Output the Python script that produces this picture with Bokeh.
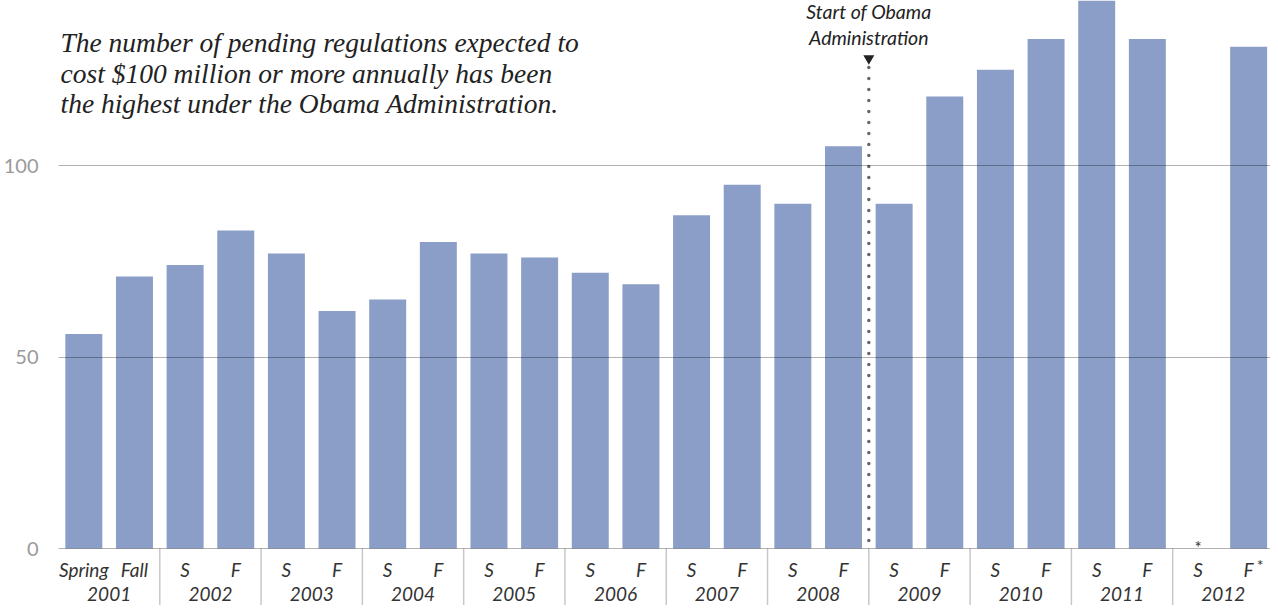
from bokeh.plotting import figure
from bokeh.models import Range1d, FixedTicker
from bokeh.core.properties import value
from bokeh.embed import file_html
from bokeh.resources import INLINE

# ---- data ----
years = ["2001", "2002", "2003", "2004", "2005", "2006",
         "2007", "2008", "2009", "2010", "2011", "2012"]
season_labels = ["Spring", "Fall"] + ["S", "F"] * 11
counts = [56, 71, 74, 83, 77, 62, 65, 80, 77, 76, 72, 69,
          87, 95, 90, 105, 90, 118, 125, 133, 144, 133, None, 131]
y_ticks = [0, 50, 100]
title_lines = ["The number of pending regulations expected to",
               "cost $100 million or more annually has been",
               "the highest under the Obama Administration."]
marker_lines = ["Start of Obama", "Administration"]
obama_start_index = 16   # first period of the Obama Administration (Spring 2009)

# ---- geometry helpers (page pixel coordinates; page margin is 8px) ----
MARGIN = 8
WIN_W, WIN_H = 1278, 613
W, H = WIN_W - MARGIN, WIN_H - MARGIN
FRAME_LEFT_PAGE = 63
Y0_PX = 556            # page pixel row of value 0
PX_PER_UNIT = 3.83
SLOT_PX = 50.77

def ydat(py):
    return (Y0_PX - py) / PX_PER_UNIT

def xdat(px):
    return (px - FRAME_LEFT_PAGE) / SLOT_PX

BAR_COLOR = "#8A9EC7"
SANS = value("Lato")
SERIF = value("Liberation Serif")

p = figure(width=W, height=H, output_backend="svg", toolbar_location=None,
           x_range=Range1d(0, xdat(WIN_W)), y_range=Range1d(ydat(WIN_H), ydat(MARGIN)),
           x_axis_location=None, min_border_left=FRAME_LEFT_PAGE - MARGIN,
           min_border_right=0, min_border_top=0, min_border_bottom=0)
p.outline_line_color = None
p.background_fill_color = "white"
p.border_fill_color = "white"

# bars
bx = [i + 0.5 for i, v in enumerate(counts) if v is not None]
bt = [v for v in counts if v is not None]
p.vbar(x=bx, top=bt, bottom=0, width=0.73, fill_color=BAR_COLOR, line_color=None)

# y axis
ax = p.yaxis[0]
ax.ticker = FixedTicker(ticks=y_ticks)
ax.axis_line_color = None
ax.major_tick_line_color = None
ax.minor_tick_line_color = None
ax.major_tick_in = 0
ax.major_tick_out = 0
ax.major_label_standoff = 20
ax.major_label_text_font = "Lato"
ax.major_label_text_font_size = "20px"
ax.major_label_text_color = "#9a9a9a"

# grid on top of bars
p.xgrid.visible = False
g = p.ygrid[0]
g.ticker = FixedTicker(ticks=y_ticks)
g.grid_line_color = "black"
g.grid_line_alpha = 0.3
g.grid_line_width = 1
g.level = "annotation"

# year separators below the axis
sep_x = [2 * k for k in range(1, len(years))]
p.segment(x0=sep_x, y0=[0] * len(sep_x), x1=sep_x, y1=[ydat(WIN_H)] * len(sep_x),
          line_color="#c8c8c8", line_width=1.5)

# season labels
sx = [i + 0.5 for i in range(len(season_labels))]
p.text(x=sx, y=[0] * len(sx), text=season_labels, text_font=SANS,
       text_font_style="italic", text_font_size="19px", text_color="#333333",
       text_align="center", text_baseline="middle", y_offset=21)
# year labels
yx = [2 * k + 1 for k in range(len(years))]
p.text(x=yx, y=[0] * len(yx), text=years, text_font=SANS,
       text_font_style="italic", text_font_size="19px", text_color="#333333",
       text_align="center", text_baseline="middle", y_offset=45)

# asterisks for missing / footnoted 2012 values
miss = [i for i, v in enumerate(counts) if v is None]
p.text(x=[i + 0.5 for i in miss], y=[0] * len(miss), text=["*"] * len(miss),
       text_font=SANS, text_font_size="17px", text_color="#333333",
       text_align="center", text_baseline="alphabetic", y_offset=-1)
last = len(counts) - 1
p.text(x=[last + 0.5], y=[0], text=["*"], text_font=SANS, text_font_size="16px",
       text_color="#333333", text_align="left", text_baseline="middle",
       x_offset=8, y_offset=16)

# Obama marker
p.segment(x0=[obama_start_index], y0=[ydat(75)], x1=[obama_start_index], y1=[0],
          line_color="#666666", line_width=3.5, line_dash="0 11", line_cap="round")
p.scatter(x=[obama_start_index], y=[ydat(66)], marker="inverted_triangle", size=11,
          fill_color="#222222", line_color=None)
p.text(x=[obama_start_index] * 2, y=[ydat(19), ydat(45)], text=marker_lines,
       text_font=SANS, text_font_style="italic", text_font_size="19.5px",
       text_color="#222222", text_align="center", text_baseline="middle")

# title
p.text(x=[xdat(65)] * 3, y=[ydat(50), ydat(81), ydat(111)], text=title_lines,
       text_font=SERIF, text_font_style="italic", text_font_size="27.5px",
       text_color="#222222", text_align="left", text_baseline="alphabetic")

open("out.html", "w").write(file_html(p, INLINE))
